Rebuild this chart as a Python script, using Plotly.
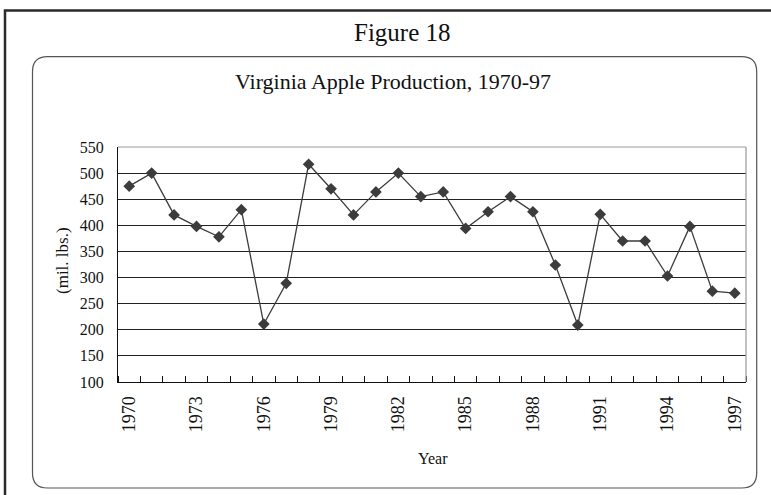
import plotly.graph_objects as go

years = [1970, 1971, 1972, 1973, 1974, 1975, 1976, 1977, 1978, 1979,
         1980, 1981, 1982, 1983, 1984, 1985, 1986, 1987, 1988, 1989,
         1990, 1991, 1992, 1993, 1994, 1995, 1996, 1997]
production = [475, 500, 420, 398, 378, 430, 211, 289, 517, 470,
              420, 464, 500, 455, 464, 394, 426, 455, 426, 324,
              209, 421, 370, 370, 303, 398, 274, 270]
tick_years = [1970, 1973, 1976, 1979, 1982, 1985, 1988, 1991, 1994, 1997]
tick_labels = ["1970", "1973", "1976", "1979", "1982", "1985", "1988", "1991", "1994", "1997"]
y_ticks = [100, 150, 200, 250, 300, 350, 400, 450, 500, 550]

W, H = 771, 495
L, R, T, B = 118, 746, 147, 382
FONT = "Liberation Serif"


def xp(px):
    return (px - L) / (R - L)


def yp(py):
    return (B - py) / (B - T)


fig = go.Figure()
fig.add_trace(go.Scatter(
    x=years, y=production, mode="lines+markers",
    line=dict(color="#3c3c3c", width=1.3),
    marker=dict(symbol="diamond", size=9, color="#3c3c3c"),
    showlegend=False,
))

# rounded inner box
x0, x1, y0, y1, r = 32.5, 756.7, 56.7, 488, 15
pts = [
    ("M", (x0 + r, y0)), ("L", (x1 - r, y0)), ("Q", (x1, y0), (x1, y0 + r)),
    ("L", (x1, y1 - r)), ("Q", (x1, y1), (x1 - r, y1)), ("L", (x0 + r, y1)),
    ("Q", (x0, y1), (x0, y1 - r)), ("L", (x0, y0 + r)), ("Q", (x0, y0), (x0 + r, y0)),
]
path = ""
for item in pts:
    cmd = item[0]
    coords = " ".join(f"{xp(a):.5f},{yp(b):.5f}" for a, b in item[1:])
    path += f"{cmd} {coords} "
path += "Z"

shapes = [
    dict(type="rect", xref="paper", yref="paper",
         x0=xp(5), x1=xp(790), y0=yp(10.5), y1=yp(510),
         line=dict(color="#2a2a2a", width=2.5)),
    dict(type="path", xref="paper", yref="paper", path=path,
         line=dict(color="#555555", width=1.2)),
    dict(type="line", xref="paper", yref="paper", x0=0, x1=1, y0=1, y1=1,
         line=dict(color="#999999", width=1.2)),
    dict(type="line", xref="paper", yref="paper", x0=1, x1=1, y0=0, y1=1,
         line=dict(color="#999999", width=1.2)),
]

annotations = [
    dict(text="Figure 18", x=xp(402), y=yp(33), xref="paper", yref="paper",
         showarrow=False, xanchor="center", yanchor="middle",
         font=dict(family=FONT, size=25, color="#111111")),
    dict(text="Virginia Apple Production, 1970-97", x=xp(392.5), y=yp(82),
         xref="paper", yref="paper", showarrow=False, xanchor="center", yanchor="middle",
         font=dict(family=FONT, size=22, color="#111111")),
    dict(text="(mil. lbs.)", x=xp(62), y=yp(261), xref="paper", yref="paper",
         showarrow=False, textangle=-90, xanchor="center", yanchor="middle",
         font=dict(family=FONT, size=17, color="#111111")),
    dict(text="Year", x=xp(433), y=yp(458), xref="paper", yref="paper",
         showarrow=False, xanchor="center", yanchor="middle",
         font=dict(family=FONT, size=16, color="#111111")),
]

fig.update_layout(
    width=W, height=H,
    margin=dict(l=L, r=W - R, t=T, b=H - B, autoexpand=False),
    paper_bgcolor="white", plot_bgcolor="white",
    font=dict(family=FONT, color="#111111"),
    shapes=shapes, annotations=annotations,
    xaxis=dict(
        range=[1969.5, 1997.5], tickmode="array", tickvals=tick_years, ticktext=tick_labels,
        tickangle=-90, ticks="", showgrid=False, zeroline=False,
        showline=True, linecolor="#111111", linewidth=1.3,
        tickfont=dict(family=FONT, size=18, color="#111111"),
        ticklabelstandoff=6,
        minor=dict(tick0=1969.5, dtick=1, ticks="inside", ticklen=6,
                   tickcolor="#111111", tickwidth=1, showgrid=False),
    ),
    yaxis=dict(
        range=[100, 550], tickmode="array", tickvals=y_ticks, ticks="",
        showgrid=True, gridcolor="#222222", gridwidth=1, zeroline=False,
        showline=True, linecolor="#111111", linewidth=1.3,
        tickfont=dict(family=FONT, size=16, color="#111111"),
        ticklabelstandoff=10,
    ),
)

fig.write_html(
    "out.html",
    config={"displayModeBar": False},
    post_script="document.body.style.margin='0';document.body.style.overflow='hidden';",
)
